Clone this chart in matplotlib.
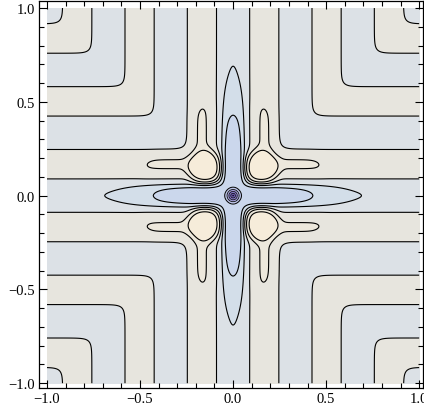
import numpy as np
import matplotlib.pyplot as plt

# contour levels and fill colours (lowest band first)
levels = [-7, -6, -5, -4, -3, -2, -1, 0, 1, 2]
line_widths = [0.5, 0.5, 0.5, 0.55, 0.7, 0.8, 0.8, 0.8, 0.8, 0.8]
fill_colors = ['#5a43a3', '#6f5bb6', '#8577c6', '#a099d6', '#bcc3e6',
               '#cbd7ec', '#d3dee9', '#dce1e6', '#e7e5de', '#ede8dc', '#f6ecda']

major_ticks = [-1.0, -0.5, 0.0, 0.5, 1.0]
major_labels = ['\u22121.0', '\u22120.5', '0.0', '0.5', '1.0']
minor_ticks = [-0.9, -0.8, -0.7, -0.6, -0.4, -0.3, -0.2, -0.1,
               0.1, 0.2, 0.3, 0.4, 0.6, 0.7, 0.8, 0.9]

# shape parameters of the surface
band_period = 0.335
band_amp = 0.8
band_shift = -0.08
corner_soft = 0.025
axis_depth = 1.85
axis_len = 0.521
axis_pow = 3.58
pit_slope = 100.0
pit_radius = 0.045
pit_soft = 0.004
petal_height = 2.6
petal_center = 0.145
petal_width = 0.095
tongue_height = 0.45
tongue_reach = 0.5


def surface(x, y):
    u = np.abs(x)
    v = np.abs(y)
    r = np.hypot(x, y)
    # smooth min(|x|, |y|) -> L shaped bands
    m = -corner_soft * np.logaddexp(-u / corner_soft, -v / corner_soft)
    m = np.maximum(m, 0)
    bands = -band_amp * np.cos(2 * np.pi * m / band_period) + band_shift

    w = 1 / (1 + np.exp((m - 0.055) / 0.01))
    axis = -axis_depth * np.exp(-(r / axis_len) ** axis_pow)

    d = np.hypot(u - petal_center, v - petal_center)
    petal = petal_height * np.exp(-(d / petal_width) ** 4)

    ridge = np.exp(-((m - band_period / 2) / 0.05) ** 2)
    tongue = tongue_height * ridge / (1 + np.exp((r - tongue_reach) / 0.02))

    pit = -pit_slope * pit_soft * np.logaddexp(0, (pit_radius - r) / pit_soft)
    return bands + w * axis + (1 - w) * petal + tongue + pit


xs = np.linspace(-1, 1, 2001)
X, Y = np.meshgrid(xs, xs)
Z = surface(X, Y)

fig = plt.figure(figsize=(4.24, 4.14), dpi=100)
ax = fig.add_axes([0.092, 0.0604, 0.906, 0.935])

bounds = [Z.min() - 1] + levels + [Z.max() + 1]
ax.contourf(X, Y, Z, levels=bounds, colors=fill_colors)
ax.contour(X, Y, Z, levels=levels, colors='black', linewidths=line_widths,
           linestyles='solid')

ax.set_xlim(-1.043, 1.0215)
ax.set_ylim(-1.0256, 1.038)

ax.set_xticks(major_ticks)
ax.set_xticklabels(major_labels)
ax.set_yticks(major_ticks)
ax.set_yticklabels(major_labels)
ax.set_xticks(minor_ticks, minor=True)
ax.set_yticks(minor_ticks, minor=True)
ax.tick_params(which='both', direction='in', top=True, right=True,
               labelsize=10.5, width=0.8, colors='black')
ax.tick_params(which='major', length=6, pad=3)
ax.tick_params(which='minor', length=3.5)
for lab in ax.get_xticklabels() + ax.get_yticklabels():
    lab.set_family('Liberation Serif')
for s in ax.spines.values():
    s.set_linewidth(0.9)

fig.savefig('out.png', dpi=100)
